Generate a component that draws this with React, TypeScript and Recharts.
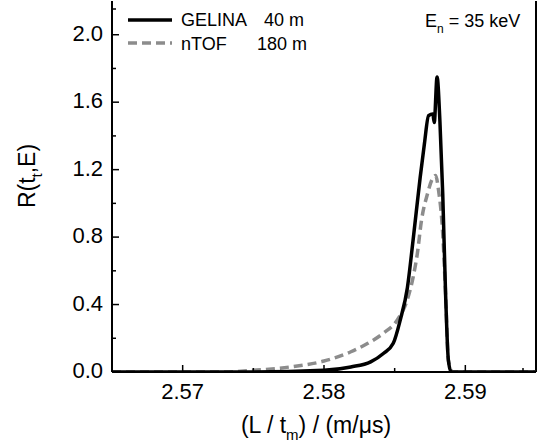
import React from "react";
import {
  LineChart,
  Line,
  XAxis,
  YAxis,
  ReferenceLine,
} from "recharts";

// GELINA 40 m (black solid)
const gelinaX = [
  2.565, 2.575, 2.58, 2.5819, 2.5833, 2.5842, 2.5849, 2.5854, 2.5859, 2.5863,
  2.5868, 2.5871, 2.5874, 2.5877, 2.5878, 2.588, 2.5882, 2.5884, 2.5886, 2.5888,
  2.589, 2.595,
];
const gelinaR = [
  0, 0, 0.01, 0.03, 0.06, 0.11, 0.17, 0.31, 0.5, 0.78, 1.15, 1.35, 1.52, 1.53,
  1.48, 1.75, 1.49, 1.06, 0.47, 0.07, 0, 0,
];

// nTOF 180 m (grey dashed)
const ntofX = [
  2.565, 2.573, 2.575, 2.5776, 2.58, 2.5819, 2.5831, 2.5842, 2.5852, 2.5859,
  2.5863, 2.5866, 2.5869, 2.5873, 2.5877, 2.5879, 2.5881, 2.5884, 2.5886, 2.5888,
  2.5891, 2.595,
];
const ntofR = [
  0, 0, 0.01, 0.03, 0.065, 0.12, 0.17, 0.23, 0.31, 0.43, 0.56, 0.7, 0.9, 1.05,
  1.15, 1.165, 1.08, 0.82, 0.47, 0.07, 0, 0,
];

const xTicks = [2.565, 2.57, 2.575, 2.58, 2.585, 2.59, 2.595];
const xMajor = [2.57, 2.58, 2.59];
const yTicks = [0, 0.2, 0.4, 0.6, 0.8, 1.0, 1.2, 1.4, 1.6, 1.8, 2.0, 2.2];
const yMajor = [0, 0.4, 0.8, 1.2, 1.6, 2.0];

const gelina = gelinaX.map((x, i) => ({ x, r: gelinaR[i] }));
const ntof = ntofX.map((x, i) => ({ x, r: ntofR[i] }));

const FONT = "'Liberation Sans', Arial, sans-serif";
const isIn = (arr: number[], v: number) => arr.some((a) => Math.abs(a - v) < 1e-9);

const XTick = ({ x, y, payload }: any) => {
  const major = isIn(xMajor, payload.value);
  return (
    <g>
      <line x1={x} x2={x} y1={y} y2={y - (major ? 7 : 4)} stroke="#000" strokeWidth={1.5} />
      {major && (
        <text x={x} y={y + 26.5} textAnchor="middle" fontSize={22} fontFamily={FONT} fill="#000">
          {payload.value.toFixed(2)}
        </text>
      )}
    </g>
  );
};

const YTick = ({ x, y, payload }: any) => {
  const major = isIn(yMajor, payload.value);
  return (
    <g>
      <line x1={x} x2={x + (major ? 7 : 4)} y1={y} y2={y} stroke="#000" strokeWidth={1.5} />
      {major && (
        <text x={x - 9} y={y + 6} textAnchor="end" fontSize={22} fontFamily={FONT} fill="#000">
          {payload.value.toFixed(1)}
        </text>
      )}
    </g>
  );
};

const App = () => {
  return (
    <div style={{ position: "absolute", left: 0, top: 0, width: 541, height: 447, background: "#fff", fontFamily: FONT }}>
      <LineChart width={541} height={447} data={gelina} margin={{ top: 1, right: 5, left: 0, bottom: 0 }}>
        <XAxis
          dataKey="x"
          type="number"
          domain={[2.565, 2.595]}
          ticks={xTicks}
          allowDataOverflow
          height={75}
          tickSize={0}
          tickMargin={0}
          tickLine={false}
          tick={<XTick />}
          axisLine={{ stroke: "#000", strokeWidth: 2 }}
        />
        <XAxis
          xAxisId="top"
          orientation="top"
          type="number"
          domain={[2.565, 2.595]}
          height={0}
          tick={false}
          tickLine={false}
          axisLine={{ stroke: "#000", strokeWidth: 2 }}
        />
        <YAxis
          type="number"
          domain={[0, 2.2]}
          ticks={yTicks}
          allowDataOverflow
          width={112}
          tickSize={0}
          tickMargin={0}
          tickLine={false}
          tick={<YTick />}
          axisLine={{ stroke: "#000", strokeWidth: 2 }}
        />
        <ReferenceLine x={2.595} stroke="#000" strokeWidth={2} />
        <Line
          data={ntof}
          dataKey="r"
          type="monotone"
          stroke="#8c8c8c"
          strokeWidth={3.5}
          strokeDasharray="9 5"
          dot={false}
          isAnimationActive={false}
        />
        <Line
          data={gelina}
          dataKey="r"
          type="monotone"
          stroke="#000"
          strokeWidth={3.5}
          dot={false}
          isAnimationActive={false}
        />
      </LineChart>

      {/* legend and annotations */}
      <svg style={{ position: "absolute", left: 0, top: 0 }} width={541} height={447} pointerEvents="none">
        <line x1={128} x2={172} y1={20} y2={20} stroke="#000" strokeWidth={3.5} />
        <line x1={128} x2={172} y1={43} y2={43} stroke="#8c8c8c" strokeWidth={3.5} strokeDasharray="9 5" />
        <text x={181} y={26} fontSize={18} fontFamily={FONT}>GELINA</text>
        <text x={264} y={26} fontSize={18} fontFamily={FONT}>40 m</text>
        <text x={181} y={49.5} fontSize={18} fontFamily={FONT}>nTOF</text>
        <text x={257} y={49.5} fontSize={18} fontFamily={FONT}>180 m</text>
        <text x={425} y={27} fontSize={18} fontFamily={FONT}>
          E<tspan fontSize={12} dy={6}>n</tspan>
          <tspan dy={-6}> = 35 keV</tspan>
        </text>
        {/* axis titles */}
        <text x={316} y={433} textAnchor="middle" fontSize={23} fontFamily={FONT}>
          (L / t<tspan fontSize={15} dy={7}>m</tspan>
          <tspan dy={-7}>) / (m/μs)</tspan>
        </text>
        <text transform="translate(35,176) rotate(-90)" textAnchor="middle" fontSize={23} fontFamily={FONT}>
          R(t<tspan fontSize={15} dy={7}>t</tspan>
          <tspan dy={-7}>,E)</tspan>
        </text>
      </svg>
    </div>
  );
};

export default App;
